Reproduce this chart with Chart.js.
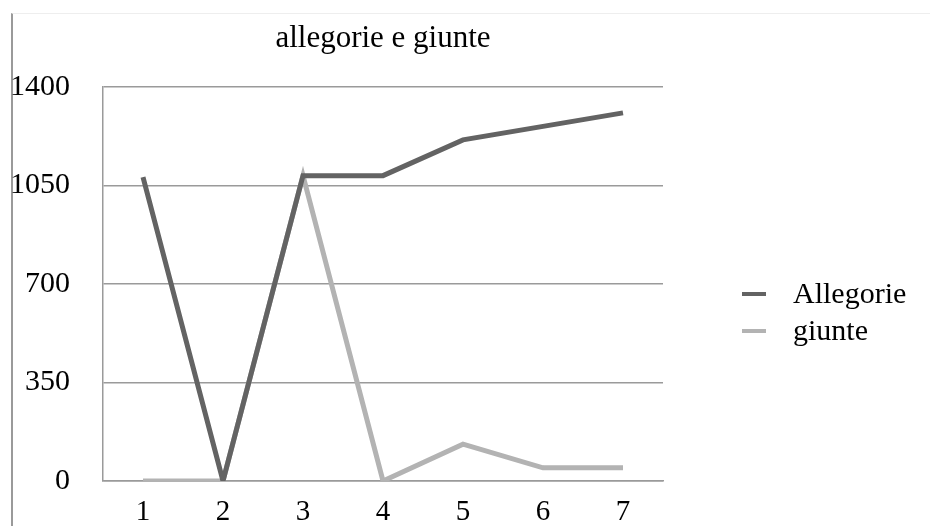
<!DOCTYPE html>
<html>
<head>
<meta charset="utf-8">
<script src="https://cdn.jsdelivr.net/npm/chart.js@4"></script>
<style>
  html, body { margin: 0; padding: 0; background: #fff; }
  .wrap { position: relative; width: 930px; height: 526px; overflow: hidden; }
  .frame { position: absolute; left: 11px; top: 13px; right: 0; bottom: -2px;
           border-left: 2px solid #9a9a9a; border-top: 1px solid #eeeeee; }
  canvas { position: absolute; left: 0; top: 0; }
</style>
</head>
<body>
<div class="wrap">
  <div class="frame"></div>
  <canvas id="chart" width="930" height="526"></canvas>
</div>
<script>
const chartTitle = "allegorie e giunte";
const categories = ["1", "2", "3", "4", "5", "6", "7"];
const allegorie = [1080, 0, 1085, 1085, 1212, 1260, 1308];
const giunte = [0, 0, 1085, 0, 131, 47, 47];
const yTicks = [0, 350, 700, 1050, 1400];

const FONT = "'Liberation Serif', 'DejaVu Serif', serif";

// title centred over the plot area, legend at the right
const decorations = {
  id: "decorations",
  afterDraw(chart) {
    const ctx = chart.ctx;
    const area = chart.chartArea;
    ctx.save();
    ctx.fillStyle = "#000";
    ctx.font = "31px " + FONT;
    ctx.textAlign = "center";
    ctx.textBaseline = "middle";
    ctx.fillText(chartTitle, (area.left + area.right) / 2, 39);

    ctx.font = "30px " + FONT;
    ctx.textAlign = "left";
    chart.data.datasets.forEach((ds, i) => {
      const y = 294 + i * 37;
      ctx.fillStyle = ds.borderColor;
      ctx.fillRect(742, y - 2, 24, 4);
      ctx.fillStyle = "#000";
      ctx.fillText(ds.label, 793, y + 1);
    });
    ctx.restore();
  }
};

new Chart(document.getElementById("chart"), {
  type: "line",
  data: {
    labels: categories,
    datasets: [
      { label: "Allegorie", data: allegorie, borderColor: "#636363" },
      { label: "giunte", data: giunte, borderColor: "#b3b3b3" }
    ]
  },
  options: {
    responsive: false,
    animation: false,
    layout: { padding: { top: 87, right: 267, bottom: 0, left: 0 } },
    elements: {
      line: { borderWidth: 5, tension: 0, borderCapStyle: "butt", borderJoinStyle: "miter" },
      point: { radius: 0 }
    },
    plugins: {
      legend: { display: false },
      title: { display: false },
      tooltip: { enabled: false }
    },
    scales: {
      x: {
        offset: true,
        grid: { display: false, drawTicks: false },
        border: { display: true, color: "#9a9a9a", width: 1.5 },
        ticks: { color: "#000", font: { family: FONT, size: 29 }, padding: 14, maxRotation: 0 },
        afterFit(scale) { scale.height = 45; }
      },
      y: {
        min: 0,
        max: 1400,
        afterBuildTicks(scale) { scale.ticks = yTicks.map(v => ({ value: v })); },
        grid: { color: "#9a9a9a", lineWidth: 1.5, drawTicks: false },
        border: { display: true, color: "#9a9a9a", width: 1.5 },
        ticks: {
          color: "#000", font: { family: FONT, size: 30 }, padding: 33,
          callback: v => String(v)
        },
        afterFit(scale) {
          scale.width = 103;
          scale.paddingTop = 0;
          scale.paddingBottom = 0;
        }
      }
    }
  },
  plugins: [decorations]
});
</script>
</body>
</html>
